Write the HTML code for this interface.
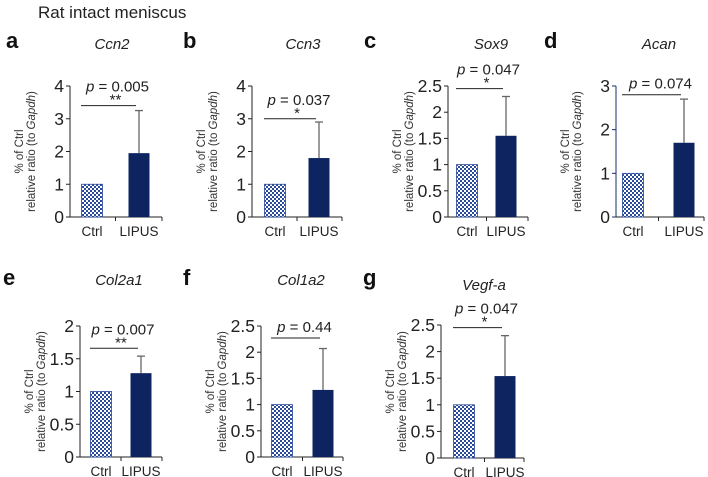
<!DOCTYPE html>
<html><head><meta charset="utf-8"><style>
html,body{margin:0;padding:0;background:#fff}
svg{display:block;font-family:"Liberation Sans",Arial,sans-serif}
</style></head><body>
<svg id="fig" width="708" height="477" viewBox="0 0 708 477">
<defs>
<pattern id="chk" width="4" height="4" patternUnits="userSpaceOnUse">
<rect width="4" height="4" fill="#fff"/><rect width="2" height="2" fill="#2a4a9a"/><rect x="2" y="2" width="2" height="2" fill="#2a4a9a"/>
</pattern>
</defs>
<text x="38" y="18" font-size="17" fill="#222">Rat intact meniscus</text>
</svg>
<script>
const genes = ["Ccn2","Ccn3","Sox9","Acan","Col2a1","Col1a2","Vegf-a"];
const letters = ["a","b","c","d","e","f","g"];
const ctrlValues = [1,1,1,1,1,1,1];
const lipusValues = [1.95,1.8,1.55,1.7,1.28,1.28,1.54];
const lipusErrTop = [3.25,2.9,2.3,2.7,1.54,2.07,2.3];
const yMaxes = [4,4,2.5,3,2,2.5,2.5];
const yTickLabels = [["0","1","2","3","4"],["0","1","2","3","4"],["0","0.5","1","1.5","2","2.5"],["0","1","2","3"],["0","0.5","1","1.5","2"],["0","0.5","1","1.5","2","2.5"],["0","0.5","1","1.5","2","2.5"]];
const pLabels = ["0.005","0.037","0.047","0.074","0.007","0.44","0.047"];
const stars = ["**","*","*","","**","","*"];
const bracketValues = [3.4,3.0,2.45,2.8,1.66,2.27,2.45];
const categories = ["Ctrl","LIPUS"];

// layout (not data)
const L = [
 {ax:70, top:86, bot:217, c1:92, c2:139, end:162, lx:6, ly:48, tx:112, ty:49},
 {ax:252,top:86, bot:217, c1:275,c2:319, end:342, lx:183,ly:48, tx:303, ty:49},
 {ax:448,top:86, bot:217, c1:467,c2:506, end:528, lx:364,ly:48, tx:491, ty:49},
 {ax:616,top:86, bot:217, c1:633,c2:684, end:704, lx:544,ly:48, tx:659, ty:49},
 {ax:80, top:326,bot:457, c1:101,c2:141, end:162, lx:3, ly:285,tx:119, ty:285},
 {ax:261,top:326,bot:457, c1:282,c2:323, end:343, lx:183,ly:285,tx:301, ty:285},
 {ax:441,top:325,bot:458, c1:464,c2:505, end:524, lx:363,ly:285,tx:484, ty:290}
];
const svg = document.getElementById('fig');
const NS = "http://www.w3.org/2000/svg";
function mk(tag, attrs, parent){const e=document.createElementNS(NS,tag);for(const k in attrs)e.setAttribute(k,attrs[k]);(parent||svg).appendChild(e);return e;}
const BW = 21;
genes.forEach((g,i)=>{
  const l = L[i];
  const grp = mk('g',{});
  
  
  const y = v => l.bot - v / yMaxes[i] * (l.bot - l.top);
  let t = mk('text',{x:l.lx,y:l.ly,'font-size':22,'font-weight':'bold',fill:'#111'},grp); t.textContent=letters[i];
   
  t = mk('text',{x:l.tx,y:l.ty,'font-size':15,'font-style':'italic','text-anchor':'middle',fill:'#222'},grp); t.textContent=g;
   
  const axisColor = i===3 ? '#1a2d6b' : '#222';
  let a = mk('line',{x1:l.ax,y1:l.top,x2:l.ax,y2:l.bot,stroke:axisColor,'stroke-width':1},grp);
   
  yTickLabels[i].forEach((s,k)=>{
    const v = k * yMaxes[i] / (yTickLabels[i].length-1);
    mk('line',{x1:l.ax-4,y1:y(v),x2:l.ax,y2:y(v),stroke:axisColor},grp);
    const tl = mk('text',{x:l.ax-6,y:y(v)+6,'font-size':17.5,'text-anchor':'end',fill:'#222'},grp); tl.textContent=s;
     
  });
  a = mk('line',{x1:l.ax,y1:l.bot,x2:l.end,y2:l.bot,stroke:'#222'},grp);
   
  const mid = (l.c1+l.c2)/2;
  [mid,l.end].forEach(xx=>mk('line',{x1:xx,y1:l.bot,x2:xx,y2:l.bot+4,stroke:'#222'},grp));
  [l.c1,l.c2].forEach((cx,k)=>{
    const tl = mk('text',{x:cx,y:l.bot+19,'font-size':13.5,'text-anchor':'middle',fill:'#222'},grp); tl.textContent=categories[k];
     
  });
  const ylx = l.ax-47, yly=(l.top+l.bot)/2;
  const yl = mk('text',{transform:`translate(${ylx},${yly}) rotate(-90)`,'font-size':11.5,'text-anchor':'middle',fill:'#333'},grp);
   
  const s1 = mk('tspan',{x:0,y:0},yl); s1.textContent='% of Ctrl';
  const s2 = mk('tspan',{x:0,y:12},yl); s2.textContent='relative ratio (to ';
  const s3 = mk('tspan',{'font-style':'italic'},yl); s3.textContent='Gapdh';
  const s4 = mk('tspan',{},yl); s4.textContent=')';
  mk('line',{x1:l.c2,y1:y(lipusErrTop[i]),x2:l.c2,y2:y(lipusValues[i]),stroke:'#666','stroke-width':1.3},grp);
  mk('line',{x1:l.c2-4,y1:y(lipusErrTop[i]),x2:l.c2+4,y2:y(lipusErrTop[i]),stroke:'#666','stroke-width':1.3},grp);
  let b = mk('rect',{x:l.c1-BW/2,y:y(ctrlValues[i]),width:BW,height:l.bot-y(ctrlValues[i]),fill:'url(#chk)',stroke:'#2a4a9a','stroke-width':0.8},grp);
   
  b = mk('rect',{x:l.c2-BW/2,y:y(lipusValues[i]),width:BW,height:l.bot-y(lipusValues[i]),fill:'#0d2461'},grp);
   
  const by = y(bracketValues[i]);
  b = mk('line',{x1:l.c1-11,y1:by,x2:l.c2-3,y2:by,stroke:'#222'},grp);
   
  const pt = mk('text',{x:mid+2,y:by-(stars[i]?14:6),'font-size':15,'text-anchor':'middle',fill:'#222'},grp);
   
  const pi = mk('tspan',{'font-style':'italic'},pt); pi.textContent='p';
  const pr = mk('tspan',{},pt); pr.textContent=' = '+pLabels[i];
  if(stars[i]){ const st = mk('text',{x:mid,y:by-1,'font-size':15,'text-anchor':'middle',fill:'#222'},grp); st.textContent=stars[i];
      }
});
</script>
</body></html>
